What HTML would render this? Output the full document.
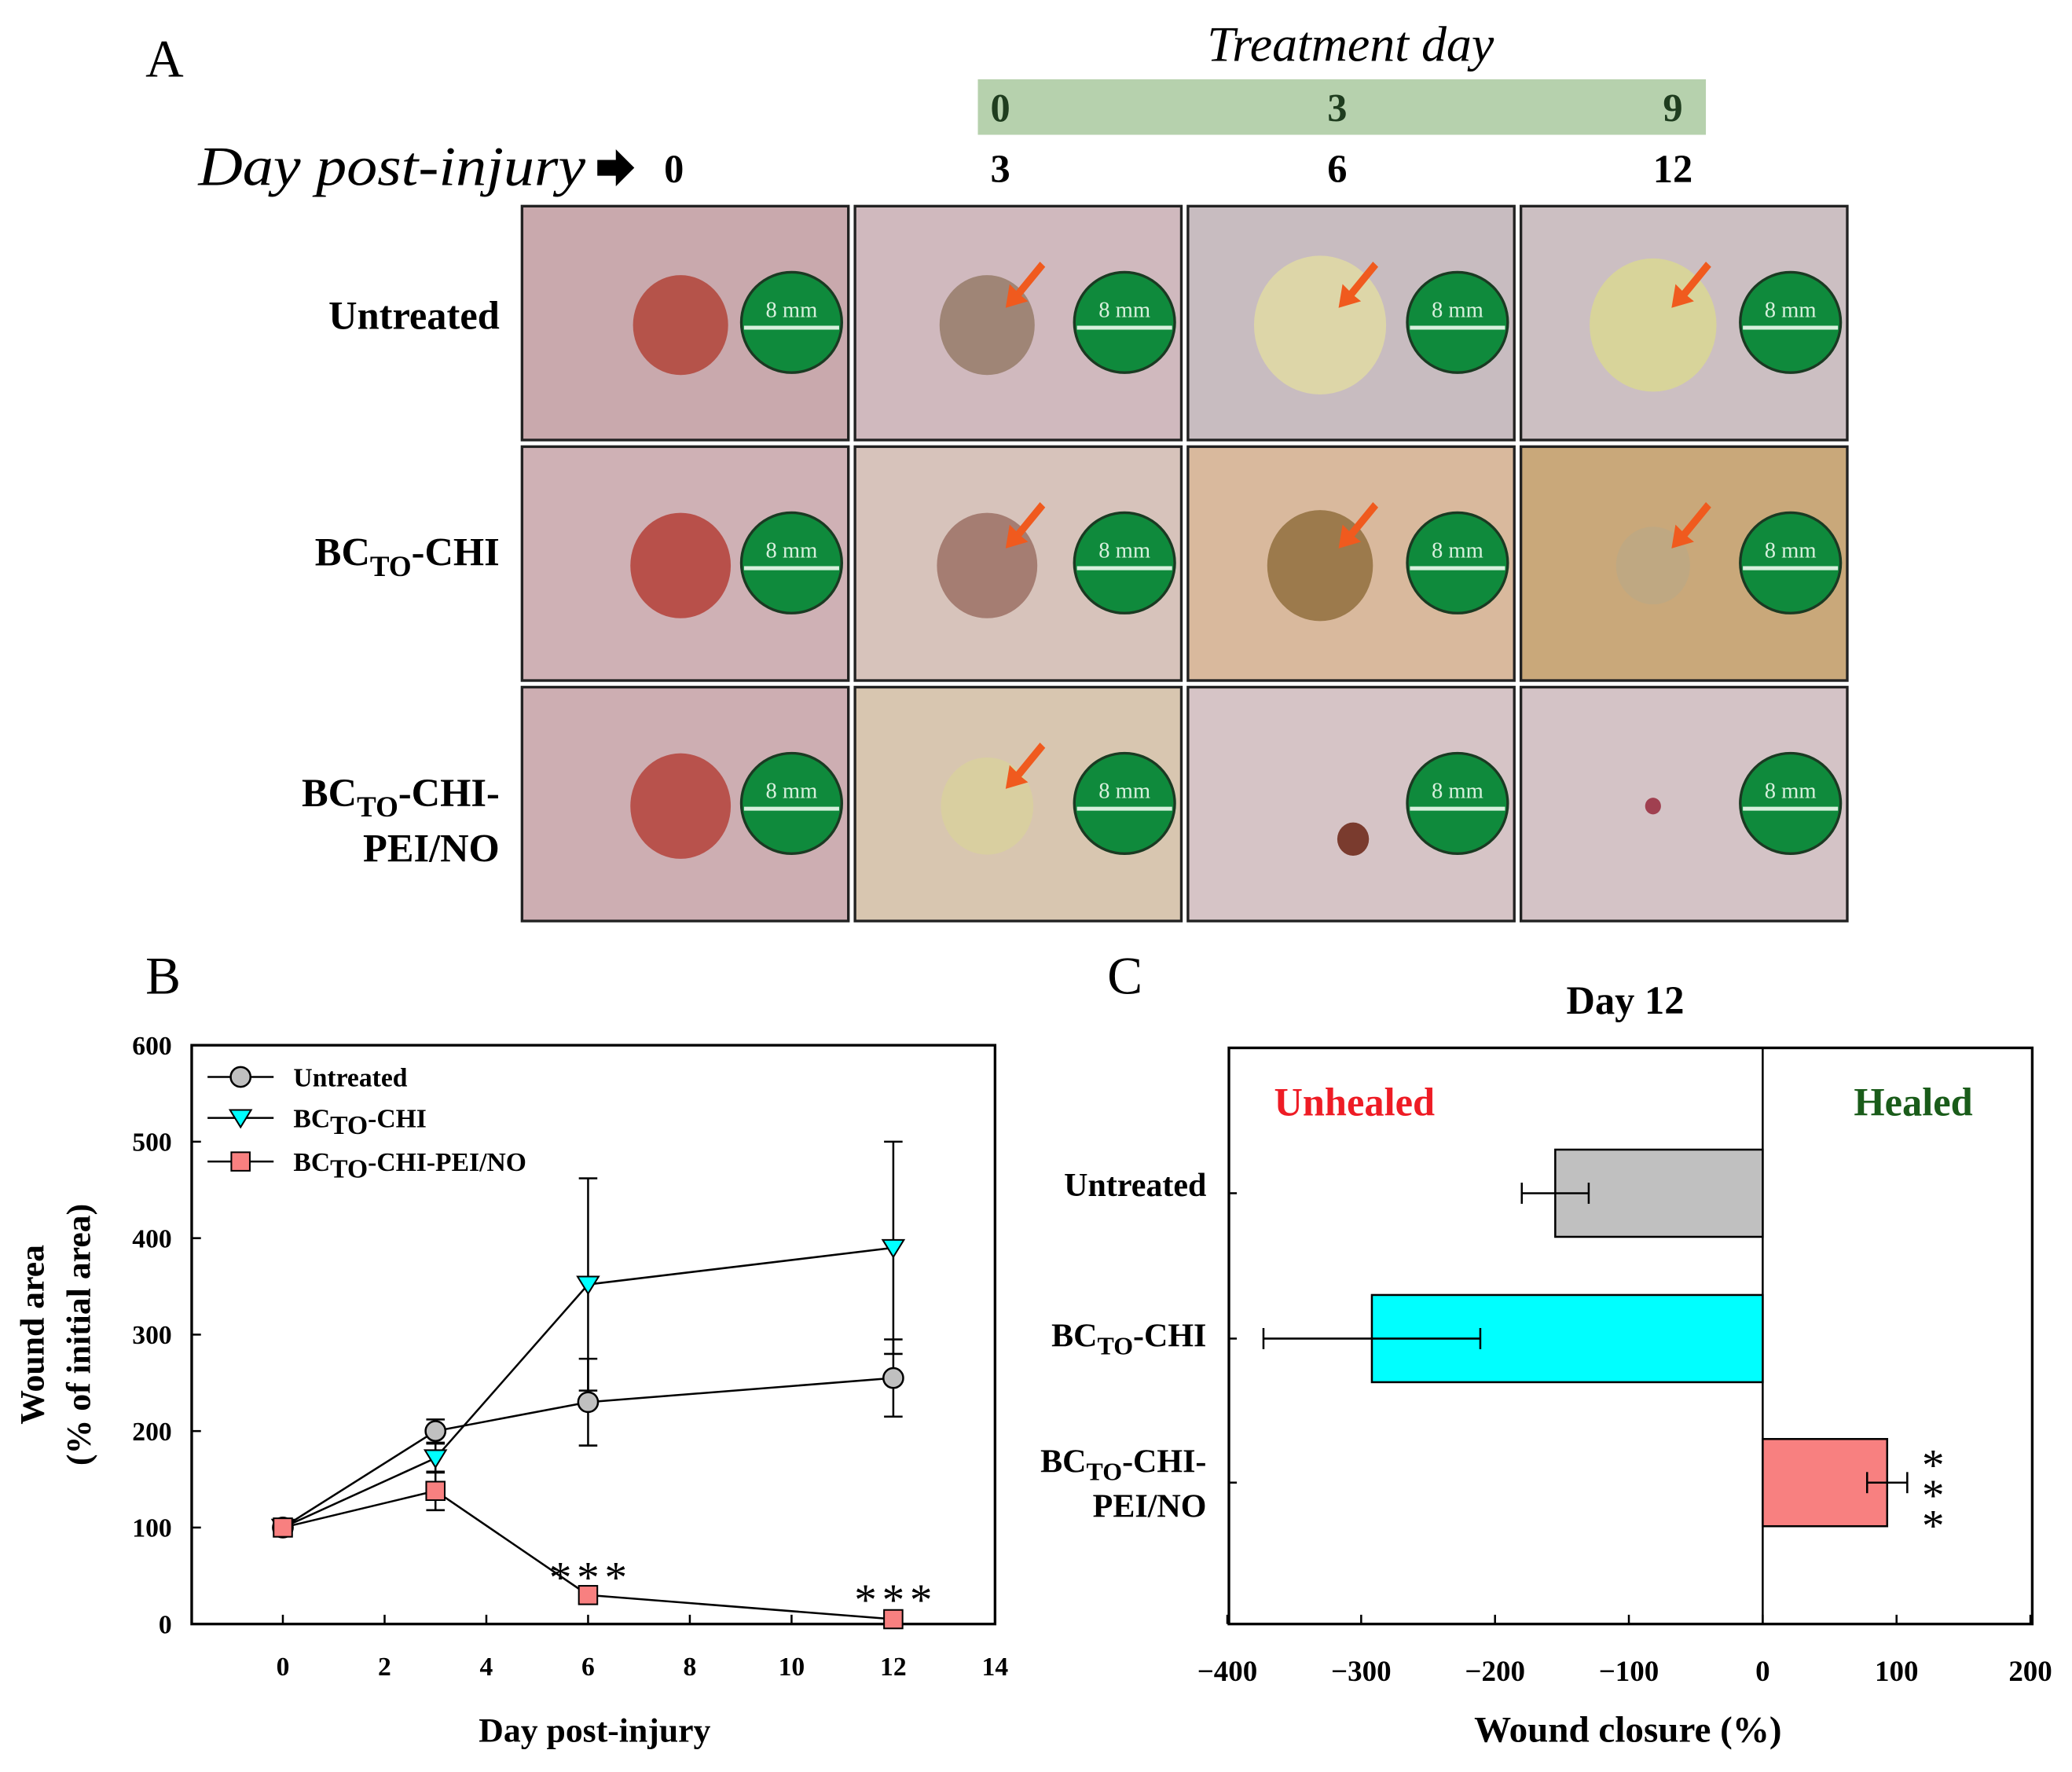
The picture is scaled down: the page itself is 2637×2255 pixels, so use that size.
<!DOCTYPE html>
<html><head><meta charset="utf-8"><style>
html,body{margin:0;padding:0;background:#fff;}
svg{display:block;}
text{font-family:"Liberation Serif",serif;}
</style></head><body>
<svg id="fig" width="2637" height="2255" viewBox="0 0 1568 1341" xmlns="http://www.w3.org/2000/svg">
<rect width="1568" height="1341" fill="#fff"/>
<g id="panelA">
<text x="110" y="58" font-size="40">A</text>
<text x="1022" y="46" font-size="38" font-style="italic" text-anchor="middle">Treatment day</text>
<rect x="740" y="60" width="551" height="42" fill="#b6d1ad"/>
<g font-size="30" font-weight="bold" text-anchor="middle" fill="#1f3d1f">
<text x="757" y="92">0</text>
<text x="1012" y="92">3</text>
<text x="1266" y="92">9</text>
</g>
<text x="150" y="140" font-size="42" font-style="italic" textLength="293" lengthAdjust="spacingAndGlyphs">Day post-injury</text>
<path d="M452 121 h14 v-8 l14 14 l-14 14 v-8 h-14z" fill="#000"/>
<g font-size="30" font-weight="bold" text-anchor="middle">
<text x="510" y="138">0</text>
<text x="757" y="138">3</text>
<text x="1012" y="138">6</text>
<text x="1266" y="138">12</text>
</g>
<g font-size="30" font-weight="bold" text-anchor="end">
<text x="378" y="249">Untreated</text>
<text x="378" y="428">BC<tspan font-size="22" dy="8">TO</tspan><tspan dy="-8">-CHI</tspan></text>
<text x="378" y="610">BC<tspan font-size="22" dy="8">TO</tspan><tspan dy="-8">-CHI-</tspan></text>
<text x="378" y="652">PEI/NO</text>
</g>
<g id="photos"></g>
</g>

<g id="panelB">
<text x="110" y="752" font-size="40">B</text>
<rect x="145" y="791" width="608" height="438" fill="none" stroke="#000" stroke-width="2"/>
<g id="bAxes"></g><g id="bSeries"></g>
<text x="450" y="1318" font-size="26" font-weight="bold" text-anchor="middle">Day post-injury</text>
<text transform="translate(33,1010) rotate(-90)" font-size="26" font-weight="bold" text-anchor="middle">Wound area</text>
<text transform="translate(68,1010) rotate(-90)" font-size="26" font-weight="bold" text-anchor="middle">(% of initial area)</text>
</g>

<g id="panelC">
<text x="838" y="752" font-size="40">C</text>
<text x="1230" y="767" font-size="30" font-weight="bold" text-anchor="middle">Day 12</text>
<rect x="930" y="793" width="608" height="436" fill="none" stroke="#000" stroke-width="2"/>
<text x="1025" y="844" font-size="30" font-weight="bold" fill="#ee1c25" text-anchor="middle">Unhealed</text>
<text x="1448" y="844" font-size="30" font-weight="bold" fill="#1a5c1a" text-anchor="middle">Healed</text>
<g id="cAxes"></g><g id="cBars"></g>
<text x="1232" y="1318" font-size="28" font-weight="bold" text-anchor="middle">Wound closure (%)</text>
</g>
</svg>
<script>
// ---- Panel B data ----
const bDays = [0, 3, 6, 12];
const bUntreated = [100, 200, 230, 255];
const bUntreatedErr = [5, 12, 45, 40];
const bChi = [100, 172, 352, 390];
const bChiErr = [5, 15, 110, 110];
const bPei = [100, 138, 30, 5];
const bPeiErr = [5, 20, 5, 3];
const bXTicks = [0, 2, 4, 6, 8, 10, 12, 14];
const bYTicks = [0, 100, 200, 300, 400, 500, 600];
const bSeriesNames = ["Untreated", "BC-CHI", "BC-CHI-PEI/NO"];
// ---- Panel C data ----
const cCategories = ["Untreated", "BC-CHI", "BC-CHI-PEI/NO"];
const cValues = [-155, -292, 93];
const cErr = [25, 81, 15];
const cXTicks = [-400, -300, -200, -100, 0, 100, 200];

const NS = "http://www.w3.org/2000/svg";
function mk(parent, tag, attrs){const e=document.createElementNS(NS,tag);for(const k in attrs)e.setAttribute(k,attrs[k]);parent.appendChild(e);return e;}

// Photos
const photos=document.getElementById('photos');
const colX=[395,647,899,1151], rowY=[156,338,520];
const skin=[["#c9a9ad","#d0b9be","#c8bcc0","#ccbfc2"],["#cfb1b5","#d7c3bb","#d9b99d","#c9a87a"],["#cdaeb2","#d8c6b0","#d6c4c6","#d4c3c6"]];
const wound=[["#b5534a","#9f8576","#ddd6a8","#d8d49a"],["#b8504a","#a57d72","#9c7a4c","#bfa882"],["#b8524c","#d9cfa0","#7a3b2e","#a04050"]];
const wr=[[36,36,50,48],[38,38,40,28],[38,35,12,6]];
for(let r=0;r<3;r++)for(let c=0;c<4;c++){
  const g=mk(photos,'g',{});
  
  
  const x=colX[c],y=rowY[r];
  mk(g,'rect',{x:x,y:y,width:247,height:177,fill:skin[r][c],stroke:'#222','stroke-width':2});
  mk(g,'ellipse',{cx:x+(c===0?120:c===2&&r===2?125:100),cy:y+(c===2&&r===2?115:90),rx:wr[r][c],ry:wr[r][c]*1.05,fill:wound[r][c]});
  mk(g,'circle',{cx:x+204,cy:y+88,r:38,fill:'#0f8a3c',stroke:'#1a3a22','stroke-width':2});
  mk(g,'line',{x1:x+168,y1:y+92,x2:x+240,y2:y+92,stroke:'#d8f0dd','stroke-width':3});
  const t=mk(g,'text',{x:x+204,y:y+84,'font-size':17,fill:'#d8f0dd','text-anchor':'middle'});t.textContent='8 mm';
  if(c>0 && !(r===2&&c>1)){
    mk(g,'path',{d:`M${x+140} ${y+42} l-18 22 l-5 -5 l-3 18 l17 -5 l-5 -4 l18 -22z`,fill:'#f05a1e'});
  }
}

// Panel B
const bx=v=>214+(v)*(753-214)/14, by=v=>1229-v*438/600;
const ba=document.getElementById('bAxes');
bXTicks.forEach(t=>{const g=mk(ba,'g',{});
 mk(g,'line',{x1:bx(t),y1:1229,x2:bx(t),y2:1222,stroke:'#000','stroke-width':1.5});
 const tx=mk(g,'text',{x:bx(t),y:1268,'font-size':20,'font-weight':'bold','text-anchor':'middle'});tx.textContent=t;});
bYTicks.forEach(t=>{const g=mk(ba,'g',{});
 mk(g,'line',{x1:145,y1:by(t),x2:152,y2:by(t),stroke:'#000','stroke-width':1.5});
 const tx=mk(g,'text',{x:130,y:by(t)+7,'font-size':20,'font-weight':'bold','text-anchor':'end'});tx.textContent=t;});
const bs=document.getElementById('bSeries');
function marker(g,type,x,y){
 if(type===0)mk(g,'circle',{cx:x,cy:y,r:7.5,fill:'#c0c0c0',stroke:'#000','stroke-width':1.5});
 else if(type===1)mk(g,'path',{d:`M${x-8} ${y-6} h16 l-8 13 z`,fill:'#00ffff',stroke:'#000','stroke-width':1.2});
 else mk(g,'rect',{x:x-7,y:y-7,width:14,height:14,fill:'#f88080',stroke:'#000','stroke-width':1.2});
}
const series=[[bUntreated,bUntreatedErr],[bChi,bChiErr],[bPei,bPeiErr]];
series.forEach((s,i)=>{
 const g=mk(bs,'g',{});
 mk(g,'polyline',{points:bDays.map((d,j)=>bx(d)+','+by(s[0][j])).join(' '),fill:'none',stroke:'#000','stroke-width':1.5});
 bDays.forEach((d,j)=>{const x=bx(d);const lo=by(s[0][j]-s[1][j]),hi=by(s[0][j]+s[1][j]);
  mk(g,'line',{x1:x,y1:lo,x2:x,y2:hi,stroke:'#000','stroke-width':1.5});
  mk(g,'line',{x1:x-7,y1:hi,x2:x+7,y2:hi,stroke:'#000','stroke-width':1.5});
  mk(g,'line',{x1:x-7,y1:lo,x2:x+7,y2:lo,stroke:'#000','stroke-width':1.5});});
 bDays.forEach((d,j)=>marker(g,i,bx(d),by(s[0][j])));
});
[2,3].forEach(j=>{const t=mk(bs,'text',{x:bx(bDays[j])+(j===2?2:2),y:0,'font-size':34,'text-anchor':'middle','letter-spacing':'4'});
 t.textContent='***';
 t.setAttribute('y',j===2?1205:1222);});
// legend
const lg=mk(bs,'g',{});
[815,846,879].forEach((y,i)=>{mk(lg,'line',{x1:157,y1:y,x2:207,y2:y,stroke:'#000','stroke-width':1.5});marker(lg,i,182,y);
 const t=mk(lg,'text',{x:222,y:y+7,'font-size':20,'font-weight':'bold'});
 if(i===0)t.textContent='Untreated';else{t.textContent='BC';const ts=mk(t,'tspan',{dy:5});ts.textContent='TO';const ts2=mk(t,'tspan',{dy:-5});ts2.textContent=i===1?'-CHI':'-CHI-PEI/NO';}});

// Panel C
const cx=v=>1334+v*101.3/100;
const cRowY=[903,1013,1122];
const ca=document.getElementById('cAxes');
cXTicks.forEach(t=>{const g=mk(ca,'g',{});
 mk(g,'line',{x1:cx(t),y1:1229,x2:cx(t),y2:1222,stroke:'#000','stroke-width':1.5});
 const tx=mk(g,'text',{x:cx(t),y:1272,'font-size':22,'font-weight':'bold','text-anchor':'middle'});tx.textContent=t<0?'\u2212'+(-t):t;});
const cb=document.getElementById('cBars');
mk(cb,'line',{x1:cx(0),y1:793,x2:cx(0),y2:1229,stroke:'#000','stroke-width':1.5});
const cols=['#c0c0c0','#00ffff','#f88080'];
cCategories.forEach((c,i)=>{
 const g=mk(cb,'g',{});
 const v=cValues[i],y=cRowY[i];
 mk(g,'rect',{x:Math.min(cx(0),cx(v)),y:y-33,width:Math.abs(cx(v)-cx(0)),height:66,fill:cols[i],stroke:'#000','stroke-width':1.5});
 const e1=cx(v-cErr[i]),e2=cx(v+cErr[i]);
 mk(g,'line',{x1:e1,y1:y,x2:e2,y2:y,stroke:'#000','stroke-width':1.5});
 mk(g,'line',{x1:e1,y1:y-8,x2:e1,y2:y+8,stroke:'#000','stroke-width':1.5});
 mk(g,'line',{x1:e2,y1:y-8,x2:e2,y2:y+8,stroke:'#000','stroke-width':1.5});
 mk(ca,'line',{x1:930,y1:y,x2:936,y2:y,stroke:'#000','stroke-width':1.5});
});
const lab=[["Untreated"],["BC|TO|-CHI"],["BC|TO|-CHI-","PEI/NO"]];
lab.forEach((ls,i)=>{ls.forEach((l,k)=>{const y=cRowY[i]+6+(ls.length>1?(k===0?-14:20):0)-(i===0?4:0);
 const t=mk(ca,'text',{x:913,y:y,'font-size':25,'font-weight':'bold','text-anchor':'end'});
 
 const p=l.split('|');if(p.length===1)t.textContent=l;else{t.textContent=p[0];const a=mk(t,'tspan',{dy:6,'font-size':19});a.textContent=p[1];const b=mk(t,'tspan',{dy:-6});b.textContent=p[2];}});});
const st=mk(cb,'g',{});
[1108,1131,1154].forEach(y=>{const t=mk(st,'text',{x:1463,y:y+12,'font-size':34,'text-anchor':'middle'});t.textContent='*';});
</script>
</body></html>
